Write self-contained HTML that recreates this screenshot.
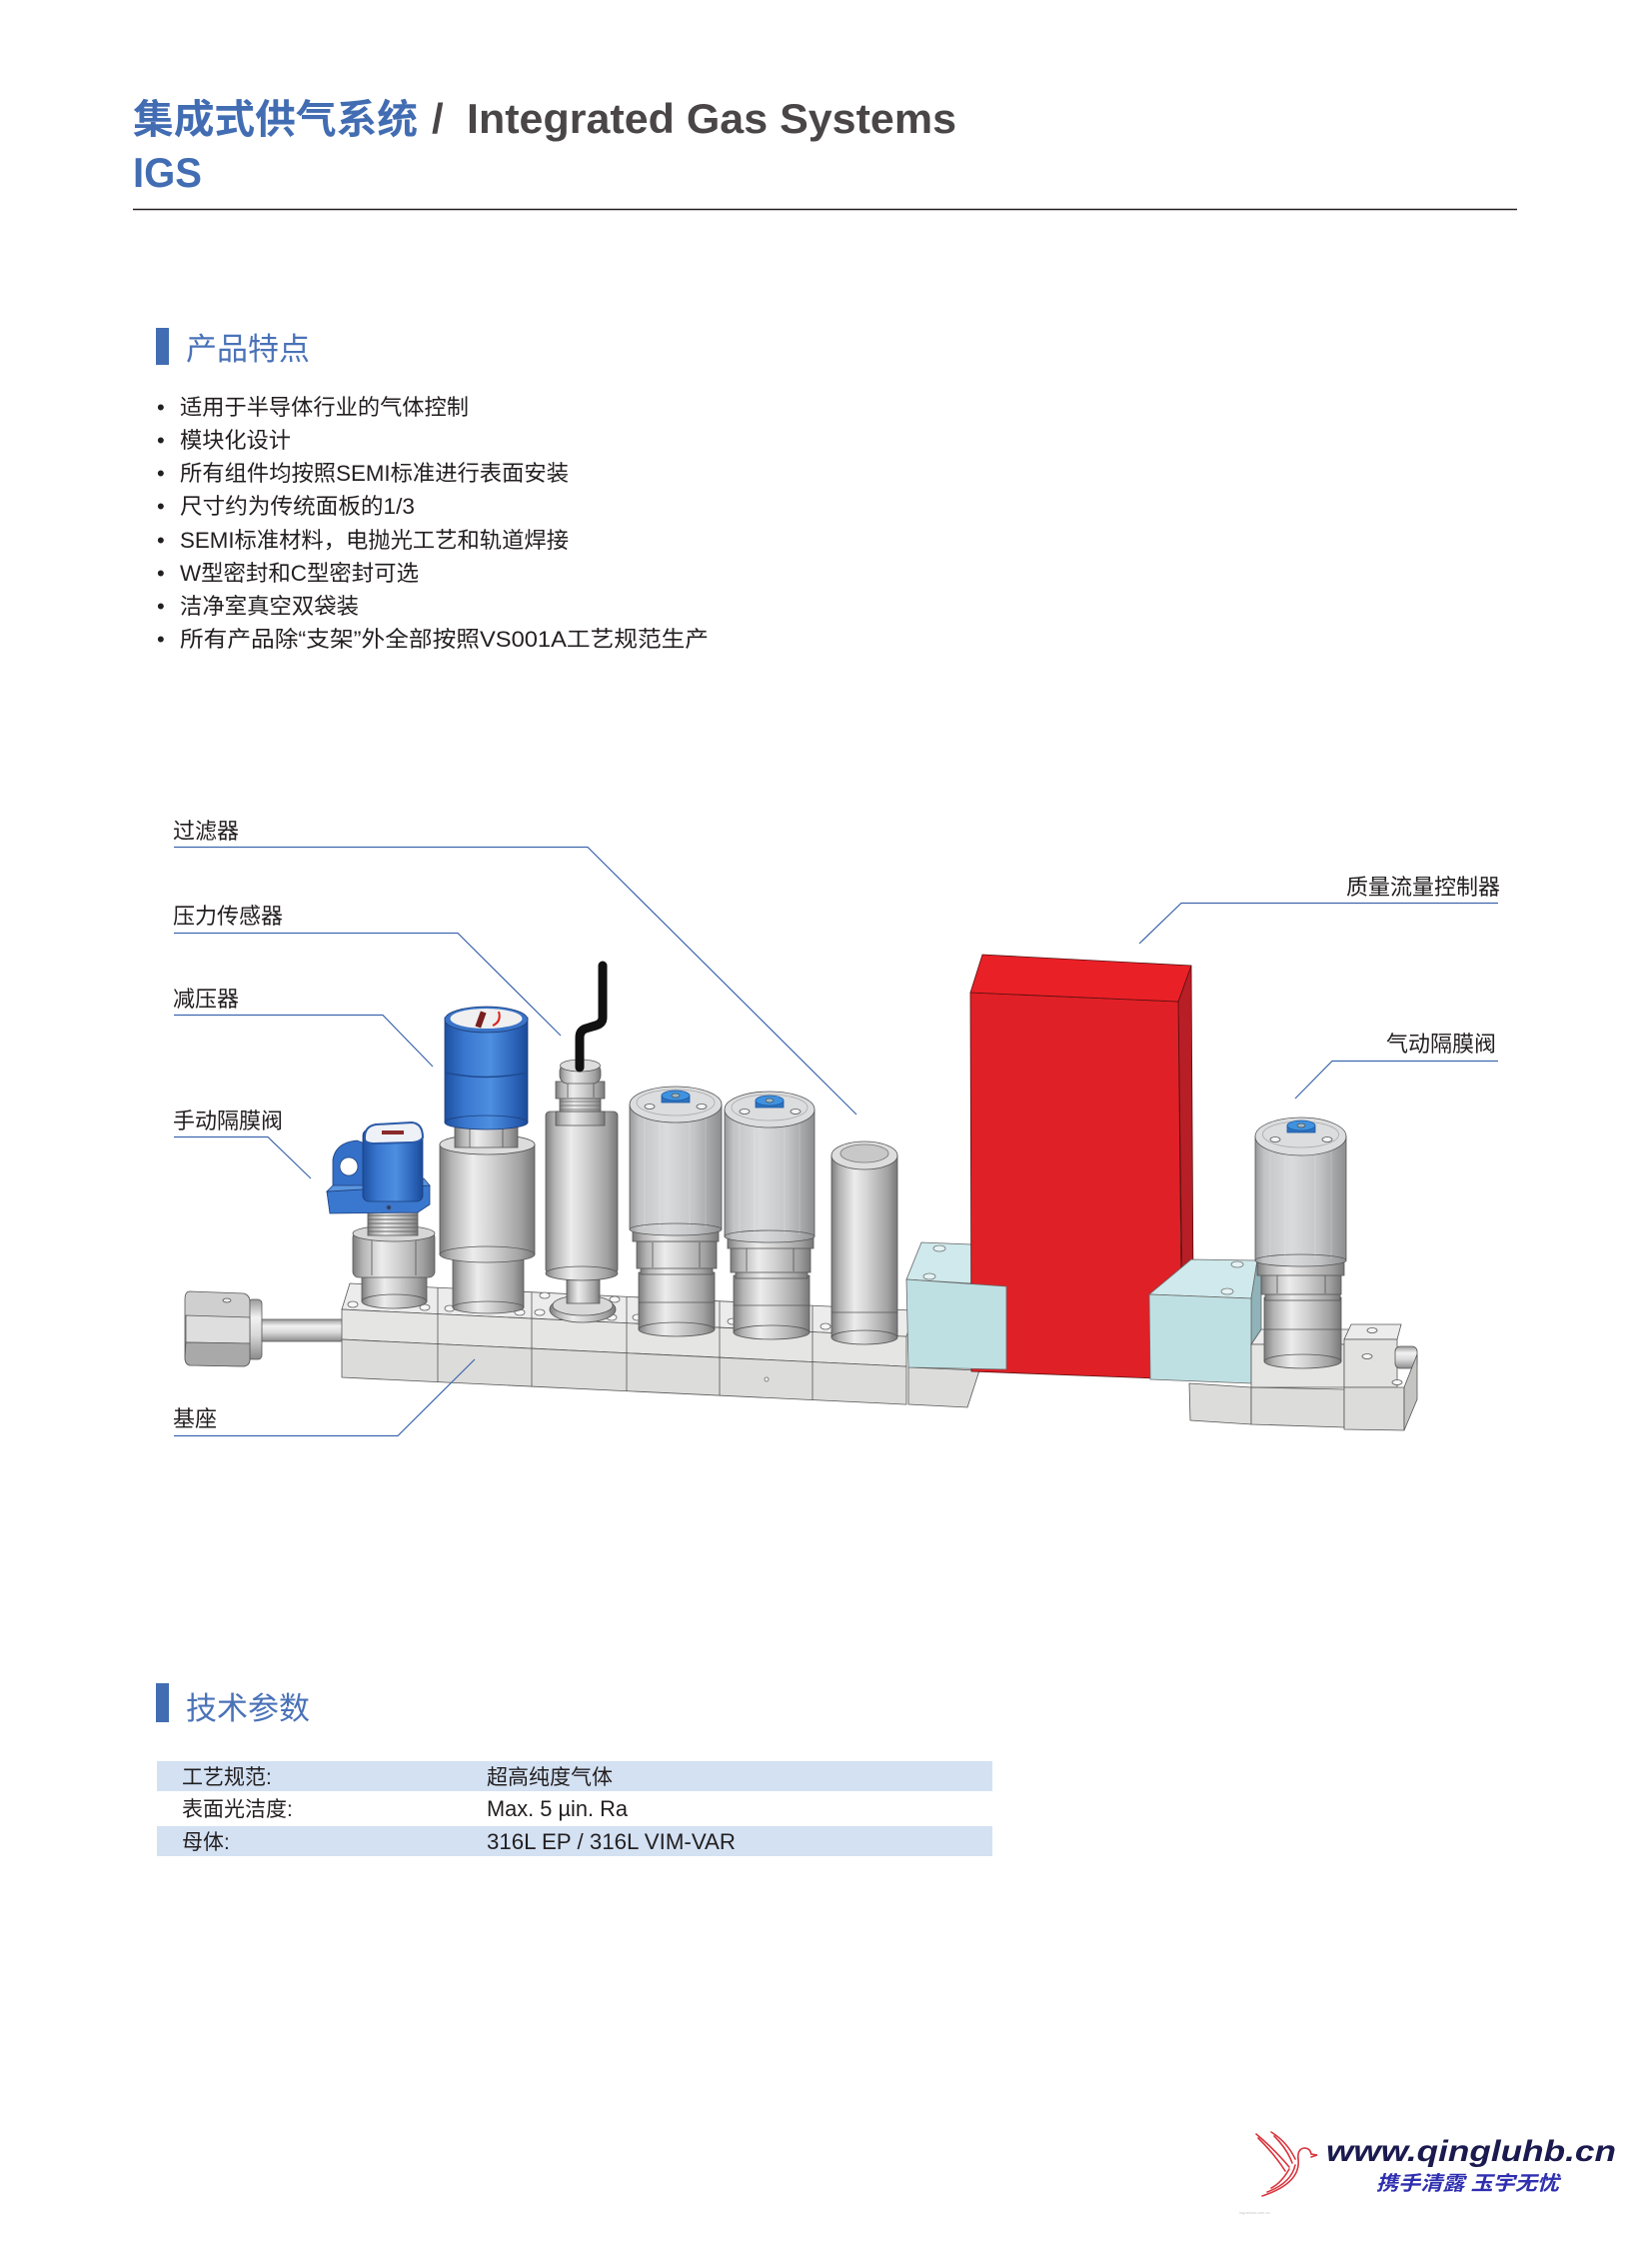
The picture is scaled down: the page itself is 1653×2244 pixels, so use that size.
<!DOCTYPE html>
<html><head><meta charset="utf-8"><style>
html,body{margin:0;padding:0;background:#fff;}
svg{display:block;}
text{font-family:"Liberation Sans","Noto Sans CJK SC",sans-serif;}
</style></head><body>
<svg width="1653" height="2244" viewBox="0 0 1653 2244" xmlns="http://www.w3.org/2000/svg">
<defs>
<linearGradient id="cyl" x1="0" y1="0" x2="1" y2="0">
<stop offset="0" stop-color="#7c7c7c"/><stop offset="0.12" stop-color="#b3b3b3"/><stop offset="0.35" stop-color="#ececec"/><stop offset="0.55" stop-color="#d2d2d2"/><stop offset="0.85" stop-color="#a2a2a2"/><stop offset="1" stop-color="#777"/>
</linearGradient>
<linearGradient id="cap" x1="0" y1="0" x2="1" y2="0">
<stop offset="0" stop-color="#96989a"/><stop offset="0.1" stop-color="#c2c4c6"/><stop offset="0.4" stop-color="#d9dbdd"/><stop offset="0.7" stop-color="#c3c5c7"/><stop offset="1" stop-color="#8c8e90"/>
</linearGradient>
<linearGradient id="blue" x1="0" y1="0" x2="1" y2="0">
<stop offset="0" stop-color="#1d4fa0"/><stop offset="0.25" stop-color="#3a78d0"/><stop offset="0.55" stop-color="#4d8fe0"/><stop offset="0.85" stop-color="#2a62b8"/><stop offset="1" stop-color="#1a4a98"/>
</linearGradient>
<linearGradient id="hcyl" x1="0" y1="0" x2="0" y2="1">
<stop offset="0" stop-color="#9a9a9a"/><stop offset="0.3" stop-color="#f2f2f2"/><stop offset="0.6" stop-color="#d8d8d8"/><stop offset="1" stop-color="#8a8a8a"/>
</linearGradient>
</defs>

<!-- Header -->
<text x="133" y="133" font-size="40" font-weight="bold" fill="#426db3" textLength="285" lengthAdjust="spacingAndGlyphs">集成式供气系统</text>
<text x="432" y="133" font-size="42" font-weight="bold" fill="#4a4648">/</text>
<text x="467" y="133" font-size="42" font-weight="bold" fill="#4a4648" textLength="490" lengthAdjust="spacingAndGlyphs">Integrated Gas Systems</text>
<text x="133" y="187" font-size="42" font-weight="bold" fill="#426db3" textLength="69" lengthAdjust="spacingAndGlyphs">IGS</text>
<line x1="133" y1="209.5" x2="1518" y2="209.5" stroke="#231f20" stroke-width="1.5"/>

<!-- Section 1 -->
<rect x="156" y="328" width="13" height="37" fill="#426db3"/>
<text x="186" y="360" font-size="31" fill="#4a72b8" textLength="124" lengthAdjust="spacingAndGlyphs">产品特点</text>
<g font-size="22" fill="#231f20">
<text x="157" y="415">•</text><text x="180" y="415" textLength="289" lengthAdjust="spacingAndGlyphs">适用于半导体行业的气体控制</text>
<text x="157" y="448">•</text><text x="180" y="448" textLength="111" lengthAdjust="spacingAndGlyphs">模块化设计</text>
<text x="157" y="481">•</text><text x="180" y="481" textLength="389" lengthAdjust="spacingAndGlyphs">所有组件均按照SEMI标准进行表面安装</text>
<text x="157" y="514">•</text><text x="180" y="514" textLength="235" lengthAdjust="spacingAndGlyphs">尺寸约为传统面板的1/3</text>
<text x="157" y="548">•</text><text x="180" y="548" textLength="389" lengthAdjust="spacingAndGlyphs">SEMI标准材料，电抛光工艺和轨道焊接</text>
<text x="157" y="581">•</text><text x="180" y="581" textLength="239" lengthAdjust="spacingAndGlyphs">W型密封和C型密封可选</text>
<text x="157" y="614">•</text><text x="180" y="614" textLength="179" lengthAdjust="spacingAndGlyphs">洁净室真空双袋装</text>
<text x="157" y="647">•</text><text x="180" y="647" textLength="529" lengthAdjust="spacingAndGlyphs">所有产品除“支架”外全部按照VS001A工艺规范生产</text>
</g>

<!-- ================= DIAGRAM ================= -->
<g stroke="#555" stroke-width="0.8">
<!-- left fitting -->
<rect x="260" y="1320" width="84" height="22" fill="url(#hcyl)"/>
<rect x="248" y="1300" width="14" height="60" rx="4" fill="url(#hcyl)"/>
<path d="M190,1292 L244,1294 Q250,1296 250,1302 L250,1360 Q250,1366 244,1367 L190,1366 Q185,1365 185,1358 L185,1300 Q185,1292 190,1292Z" fill="#cfcfcf"/>
<path d="M186,1316 L250,1318 L250,1344 L186,1343Z" fill="#dedede"/>
<path d="M186,1343 L250,1344 L250,1360 Q250,1366 244,1367 L190,1366 Q185,1365 185,1358Z" fill="#a9a9a9"/>
<ellipse cx="227" cy="1301" rx="4" ry="2" fill="#eee"/>

<!-- base left group -->
<polygon points="342,1310 907,1337.1 915,1311.1 350,1284" fill="#ececec"/>
<polygon points="342,1310 907,1337.1 907,1367.1 342,1340" fill="#e5e5e3"/>
<polygon points="342,1340 907,1367.1 907,1405.1 342,1378" fill="#dcdcda"/>
<g fill="none">
<line x1="438" y1="1288.6" x2="438" y2="1382.6"/><line x1="532" y1="1293.1" x2="532" y2="1387.1"/>
<line x1="627" y1="1297.7" x2="627" y2="1391.7"/><line x1="720" y1="1302.1" x2="720" y2="1396.1"/>
<line x1="813" y1="1306.6" x2="813" y2="1400.6"/>
</g>
<g fill="#f7f7f7" stroke="#666">
<ellipse cx="353" cy="1305" rx="5" ry="3"/><ellipse cx="425" cy="1308" rx="5" ry="3"/>
<ellipse cx="450" cy="1309" rx="5" ry="3"/><ellipse cx="520" cy="1313" rx="5" ry="3"/>
<ellipse cx="545" cy="1296" rx="5" ry="3"/><ellipse cx="615" cy="1300" rx="5" ry="3"/>
<ellipse cx="540" cy="1313" rx="5" ry="3"/><ellipse cx="612" cy="1318" rx="5" ry="3"/>
<ellipse cx="638" cy="1318" rx="5" ry="3"/><ellipse cx="706" cy="1322" rx="5" ry="3"/>
<ellipse cx="733" cy="1322" rx="5" ry="3"/><ellipse cx="800" cy="1327" rx="5" ry="3"/>
<ellipse cx="826" cy="1327" rx="5" ry="3"/><ellipse cx="893" cy="1331" rx="5" ry="3"/>
<ellipse cx="648" cy="1301" rx="5" ry="3"/><ellipse cx="741" cy="1306" rx="5" ry="3"/>
<ellipse cx="767" cy="1380" rx="2" ry="2"/>
</g>

<!-- manual diaphragm valve -->
<rect x="362" y="1277" width="65" height="25" fill="url(#cyl)"/>
<ellipse cx="394.5" cy="1302" rx="32.5" ry="7" fill="url(#cyl)"/>
<rect x="353" y="1232" width="82" height="46" rx="6" fill="url(#cyl)"/>
<line x1="372" y1="1240" x2="372" y2="1276"/><line x1="416" y1="1240" x2="416" y2="1276"/>
<ellipse cx="394" cy="1234" rx="41" ry="8" fill="#d6d6d6"/>
<rect x="368" y="1212" width="50" height="24" fill="url(#cyl)"/>
<g stroke="#666" stroke-width="1"><line x1="368" y1="1216" x2="418" y2="1216"/><line x1="368" y1="1220" x2="418" y2="1220"/><line x1="368" y1="1224" x2="418" y2="1224"/><line x1="368" y1="1228" x2="418" y2="1228"/><line x1="368" y1="1232" x2="418" y2="1232"/></g>
<g stroke="#1e3f7a">
<polygon points="327,1192 430,1186 430,1205 418,1213 330,1214" fill="#3a78cf"/>
<polygon points="327,1192 335,1184 424,1179 430,1186" fill="#5a96e0"/>
<path d="M333,1186 L333,1160 Q336,1143 357,1141 L368,1145 L368,1186Z" fill="#3470c8"/>
<circle cx="349" cy="1167" r="9" fill="#fff"/>
<rect x="363" y="1130" width="60" height="72" rx="6" fill="url(#blue)"/>
<path d="M365,1140 Q364,1127 376,1125 L412,1123 Q423,1124 423,1138 Q420,1143 410,1143 L375,1144 Q366,1144 365,1140Z" fill="#eef1f6" stroke="#2a5aa8" stroke-width="2"/>
</g>
<rect x="382" y="1131" width="22" height="4" fill="#8b2a2a" stroke="none"/>
<circle cx="389" cy="1208" r="2" fill="#1e3f7a"/>

<!-- regulator -->
<rect x="453" y="1252" width="71" height="56" fill="url(#cyl)"/>
<ellipse cx="488.5" cy="1308" rx="35.5" ry="6" fill="url(#cyl)"/>
<rect x="440" y="1145" width="95" height="110" fill="url(#cyl)"/>
<ellipse cx="487.5" cy="1255" rx="47.5" ry="8" fill="url(#cyl)"/>
<ellipse cx="487.5" cy="1145" rx="47.5" ry="10" fill="#dcdcdc"/>
<rect x="455" y="1118" width="63" height="30" fill="url(#cyl)"/>
<line x1="470" y1="1120" x2="470" y2="1148"/><line x1="503" y1="1120" x2="503" y2="1148"/>
<rect x="445" y="1018" width="83" height="105" fill="url(#blue)" stroke="#1e3f7a"/>
<ellipse cx="486.5" cy="1123" rx="41.5" ry="7" fill="url(#blue)" stroke="#1e3f7a"/>
<path d="M445,1073 Q486.5,1082 528,1073" fill="none" stroke="#1e4a90" stroke-width="1.5"/>
<ellipse cx="486.5" cy="1020" rx="41.5" ry="13" fill="#3a74c8" stroke="#1e3f7a"/>
<ellipse cx="486.5" cy="1019" rx="36" ry="10" fill="#f0f0f0" stroke="none"/>
<rect x="478" y="1012" width="6" height="16" fill="#7a1f1f" stroke="none" transform="rotate(20 481 1020)"/>
<path d="M493,1026 Q502,1022 499,1012" fill="none" stroke="#d22" stroke-width="2"/>

<!-- pressure sensor -->
<ellipse cx="583" cy="1310" rx="33" ry="13" fill="url(#cyl)"/>
<ellipse cx="583" cy="1306" rx="30" ry="10" fill="#d8d8d8"/>
<rect x="567" y="1274" width="33" height="30" fill="url(#cyl)"/>
<rect x="546" y="1112" width="72" height="162" rx="4" fill="url(#cyl)"/>
<ellipse cx="582" cy="1274" rx="36" ry="7" fill="url(#cyl)"/>
<rect x="556" y="1112" width="49" height="14" fill="url(#cyl)"/>
<rect x="560" y="1098" width="41" height="14" fill="url(#cyl)"/>
<g stroke="#666"><line x1="560" y1="1102" x2="601" y2="1102"/><line x1="560" y1="1106" x2="601" y2="1106"/><line x1="560" y1="1110" x2="601" y2="1110"/></g>
<rect x="556" y="1082" width="49" height="17" fill="url(#cyl)"/>
<line x1="568" y1="1083" x2="568" y2="1098"/><line x1="594" y1="1083" x2="594" y2="1098"/>
<rect x="560" y="1064" width="41" height="20" rx="8" fill="url(#cyl)"/>
<ellipse cx="580.5" cy="1066" rx="20" ry="6" fill="#ddd"/>
<path d="M603,966 L603,1018 Q603,1024 596,1026 L586,1029 Q580,1031 580,1038 L580,1068" fill="none" stroke="#111" stroke-width="9" stroke-linecap="round" stroke-linejoin="round"/>

<!-- pneumatic valve 1 -->
<rect x="639" y="1273" width="76" height="57" fill="url(#cyl)"/>
<ellipse cx="677" cy="1330" rx="38" ry="7" fill="url(#cyl)"/>
<line x1="639" y1="1303" x2="715" y2="1303"/>
<rect x="641" y="1266" width="72" height="9" fill="url(#cyl)"/>
<rect x="637" y="1242" width="80" height="27" fill="url(#cyl)"/>
<line x1="653" y1="1243" x2="653" y2="1268"/><line x1="700" y1="1243" x2="700" y2="1268"/>
<rect x="633" y="1230" width="86" height="12" fill="url(#cyl)"/>
<rect x="630" y="1105" width="92" height="125" fill="url(#cap)"/>
<ellipse cx="676" cy="1230" rx="46" ry="6" fill="url(#cap)"/>
<g stroke="#fff" stroke-opacity="0.25"><line x1="645" y1="1112" x2="645" y2="1228"/><line x1="660" y1="1112" x2="660" y2="1228"/><line x1="690" y1="1112" x2="690" y2="1228"/><line x1="706" y1="1112" x2="706" y2="1228"/></g>
<ellipse cx="676" cy="1105" rx="46" ry="18" fill="#dcdddf"/>
<ellipse cx="676" cy="1103" rx="39" ry="13" fill="none" stroke="#aaa"/>
<ellipse cx="650" cy="1107" rx="5" ry="2.5" fill="#f5f5f5"/><ellipse cx="702" cy="1107" rx="5" ry="2.5" fill="#f5f5f5"/>
<rect x="662" y="1096" width="28" height="7" fill="#2c72c0" stroke="#1f5aa0"/>
<ellipse cx="676" cy="1096" rx="14" ry="5" fill="#3f92e0" stroke="#1f5aa0"/>
<ellipse cx="676" cy="1096" rx="4" ry="2" fill="#9bc"/>

<!-- pneumatic valve 2 -->
<rect x="734" y="1276" width="76" height="57" fill="url(#cyl)"/>
<ellipse cx="772" cy="1333" rx="38" ry="7" fill="url(#cyl)"/>
<line x1="734" y1="1306" x2="810" y2="1306"/>
<rect x="736" y="1270" width="72" height="9" fill="url(#cyl)"/>
<rect x="731" y="1248" width="80" height="25" fill="url(#cyl)"/>
<line x1="747" y1="1249" x2="747" y2="1272"/><line x1="794" y1="1249" x2="794" y2="1272"/>
<rect x="728" y="1237" width="86" height="12" fill="url(#cyl)"/>
<rect x="725" y="1110" width="90" height="127" fill="url(#cap)"/>
<ellipse cx="770" cy="1237" rx="45" ry="6" fill="url(#cap)"/>
<g stroke="#fff" stroke-opacity="0.25"><line x1="740" y1="1118" x2="740" y2="1235"/><line x1="755" y1="1118" x2="755" y2="1235"/><line x1="785" y1="1118" x2="785" y2="1235"/><line x1="800" y1="1118" x2="800" y2="1235"/></g>
<ellipse cx="770" cy="1110" rx="45" ry="18" fill="#dcdddf"/>
<ellipse cx="770" cy="1108" rx="38" ry="13" fill="none" stroke="#aaa"/>
<ellipse cx="745" cy="1112" rx="5" ry="2.5" fill="#f5f5f5"/><ellipse cx="796" cy="1112" rx="5" ry="2.5" fill="#f5f5f5"/>
<rect x="756" y="1101" width="28" height="7" fill="#2c72c0" stroke="#1f5aa0"/>
<ellipse cx="770" cy="1101" rx="14" ry="5" fill="#3f92e0" stroke="#1f5aa0"/>
<ellipse cx="770" cy="1101" rx="4" ry="2" fill="#9bc"/>

<!-- filter -->
<rect x="832" y="1156" width="66" height="182" fill="url(#cyl)"/>
<ellipse cx="865" cy="1338" rx="33" ry="7" fill="url(#cyl)"/>
<line x1="832" y1="1313" x2="898" y2="1313"/>
<ellipse cx="865" cy="1156" rx="33" ry="14" fill="#dddddd"/>
<ellipse cx="865" cy="1154" rx="24" ry="9" fill="#c8c8c8" stroke="#777"/>

<!-- cyan block 1 top (behind red) -->
<polygon points="907,1280 922,1243 972,1245 972,1284" fill="#cfe9ec" stroke="#666"/>
<ellipse cx="940" cy="1249" rx="6" ry="3" fill="#e4f3f5" stroke="#777"/>
<ellipse cx="930" cy="1277" rx="6" ry="3" fill="#e4f3f5" stroke="#777"/>

<!-- gray under cyan1 -->
<polygon points="909,1368 980,1371 968,1408 909,1405" fill="#dcdcda"/>

<!-- red MFC -->
<polygon points="1179,1002 1192,966 1194,1290 1183,1300" fill="#b81e26" stroke="#5a1010"/>
<polygon points="971,993 1179,1002 1183,1380 972,1372" fill="#e02027" stroke="#5a1010"/>
<polygon points="971,993 983,955 1192,966 1179,1002" fill="#ea2027" stroke="#5a1010"/>

<!-- cyan block 1 front -->
<polygon points="907,1280 1007,1287 1007,1370 909,1368" fill="#bfe0e3" stroke="#666"/>

<!-- cyan block 2 -->
<polygon points="1150,1295 1192,1260 1258,1261 1252,1299" fill="#cfe9ec" stroke="#666"/>
<polygon points="1252,1299 1258,1261 1262,1266 1262,1376 1252,1384" fill="#8fb3b8" stroke="#666"/>
<polygon points="1150,1295 1252,1299 1252,1384 1151,1380" fill="#bfe0e3" stroke="#666"/>
<ellipse cx="1238" cy="1265" rx="6" ry="3" fill="#e4f3f5" stroke="#777"/>
<ellipse cx="1228" cy="1292" rx="6" ry="3" fill="#e4f3f5" stroke="#777"/>
<polygon points="1190,1384 1252,1388 1252,1425 1191,1421" fill="#dcdcda"/>

<!-- right base -->
<polygon points="1252,1345 1262,1330 1350,1330 1345,1345" fill="#ececec"/>
<polygon points="1252,1345 1345,1345 1345,1388 1252,1388" fill="#e5e5e3"/>
<polygon points="1252,1388 1345,1390 1345,1428 1252,1425" fill="#dcdcda"/>
<polygon points="1345,1340 1352,1325 1402,1325 1398,1340" fill="#ececec"/>
<polygon points="1345,1340 1398,1340 1398,1388 1345,1388" fill="#e2e2e0"/>
<rect x="1396" y="1347" width="22" height="22" rx="5" fill="url(#hcyl)"/>
<polygon points="1345,1388 1405,1388 1405,1431 1345,1430" fill="#dcdcda"/>
<polygon points="1405,1388 1418,1355 1418,1400 1405,1431" fill="#c4c4c2"/>
<ellipse cx="1373" cy="1331" rx="5" ry="2.5" fill="#f5f5f5"/><ellipse cx="1368" cy="1357" rx="5" ry="2.5" fill="#f5f5f5"/>
<ellipse cx="1398" cy="1383" rx="5" ry="2.5" fill="#f5f5f5"/>

<!-- pneumatic valve 3 -->
<rect x="1265" y="1298" width="77" height="64" fill="url(#cyl)"/>
<ellipse cx="1303.5" cy="1362" rx="38.5" ry="7" fill="url(#cyl)"/>
<line x1="1265" y1="1330" x2="1342" y2="1330"/>
<rect x="1266" y="1292" width="75" height="9" fill="url(#cyl)"/>
<rect x="1262" y="1275" width="80" height="20" fill="url(#cyl)"/>
<line x1="1278" y1="1276" x2="1278" y2="1294"/><line x1="1326" y1="1276" x2="1326" y2="1294"/>
<rect x="1258" y="1261" width="87" height="15" fill="url(#cyl)"/>
<rect x="1256" y="1137" width="91" height="124" fill="url(#cap)"/>
<ellipse cx="1301.5" cy="1261" rx="45.5" ry="6" fill="url(#cap)"/>
<g stroke="#fff" stroke-opacity="0.25"><line x1="1271" y1="1145" x2="1271" y2="1259"/><line x1="1286" y1="1145" x2="1286" y2="1259"/><line x1="1316" y1="1145" x2="1316" y2="1259"/><line x1="1332" y1="1145" x2="1332" y2="1259"/></g>
<ellipse cx="1301.5" cy="1137" rx="45.5" ry="19" fill="#dcdddf"/>
<ellipse cx="1301.5" cy="1135" rx="38" ry="13" fill="none" stroke="#aaa"/>
<ellipse cx="1276" cy="1140" rx="5" ry="2.5" fill="#f5f5f5"/><ellipse cx="1328" cy="1140" rx="5" ry="2.5" fill="#f5f5f5"/>
<rect x="1288" y="1126" width="28" height="7" fill="#2c72c0" stroke="#1f5aa0"/>
<ellipse cx="1302" cy="1126" rx="14" ry="5" fill="#3f92e0" stroke="#1f5aa0"/>
<ellipse cx="1302" cy="1126" rx="4" ry="2" fill="#9bc"/>
</g>

<!-- callout lines -->
<g fill="none" stroke="#3d66ad">
<polyline points="174,847.5 588,847.5 857,1115" stroke-width="1.2"/>
<polyline points="174,933.5 458,933.5 561,1036" stroke-width="1.2"/>
<polyline points="174,1015.5 383,1015.5 433,1067" stroke-width="1.2"/>
<polyline points="174,1137.5 268,1137.5 311,1179" stroke-width="1.2"/>
<polyline points="174,1436.5 398,1436.5 475,1360" stroke-width="1.2"/>
<polyline points="1499,903.5 1182,903.5 1140,944" stroke-width="1.2"/>
<polyline points="1499,1061.5 1333,1061.5 1296,1099" stroke-width="1.2"/>
</g>
<g font-size="22" fill="#231f20">
<text x="173" y="839">过滤器</text>
<text x="173" y="924">压力传感器</text>
<text x="173" y="1007">减压器</text>
<text x="173" y="1129">手动隔膜阀</text>
<text x="173" y="1427">基座</text>
<text x="1501" y="895" text-anchor="end">质量流量控制器</text>
<text x="1497" y="1052" text-anchor="end">气动隔膜阀</text>
</g>

<!-- Section 2 -->
<rect x="156" y="1684" width="13" height="39" fill="#426db3"/>
<text x="186" y="1720" font-size="31" fill="#4a72b8" textLength="124" lengthAdjust="spacingAndGlyphs">技术参数</text>
<rect x="157" y="1762" width="836" height="30" fill="#d3e1f3"/>
<rect x="157" y="1827" width="836" height="30" fill="#d3e1f3"/>
<g font-size="21" fill="#231f20">
<text x="182" y="1785">工艺规范:</text>
<text x="182" y="1817">表面光洁度:</text>
<text x="182" y="1850">母体:</text>
<text x="487" y="1785">超高纯度气体</text>
<text x="487" y="1817" font-size="22" textLength="141" lengthAdjust="spacingAndGlyphs">Max. 5 µin. Ra</text>
<text x="487" y="1850" font-size="22" textLength="249" lengthAdjust="spacingAndGlyphs">316L EP / 316L VIM-VAR</text>
</g>

<!-- Footer logo -->
<g fill="none" stroke="#d9363e" stroke-width="1.6" stroke-linecap="round">
<path d="M1257,2135 Q1275,2150 1290,2168"/>
<path d="M1259,2139 Q1276,2156 1286,2172"/>
<path d="M1272,2133 Q1288,2143 1296,2160"/>
<path d="M1275,2137 Q1288,2150 1293,2164"/>
<path d="M1299,2160 Q1298,2150 1305,2149 Q1311,2149 1312,2155 L1318,2156 L1312,2158"/>
<path d="M1299,2160 Q1302,2184 1263,2197"/>
<path d="M1296,2166 Q1292,2184 1268,2193"/>
<path d="M1290,2170 Q1282,2184 1272,2189"/>
</g>
<text x="1327" y="2162" font-family="Liberation Serif, serif" font-size="30" font-weight="bold" font-style="italic" fill="#1b1a4f" textLength="290" lengthAdjust="spacingAndGlyphs">www.qingluhb.cn</text>
<text x="1377" y="2191" font-size="20" font-weight="bold" fill="#2f2fb0" font-style="italic" textLength="183" lengthAdjust="spacingAndGlyphs">携手清露 玉宇无忧</text>
<text x="1240" y="2215" font-size="4" fill="#c8c8c8">logoshow.com.cn</text>
</svg>
</body></html>
